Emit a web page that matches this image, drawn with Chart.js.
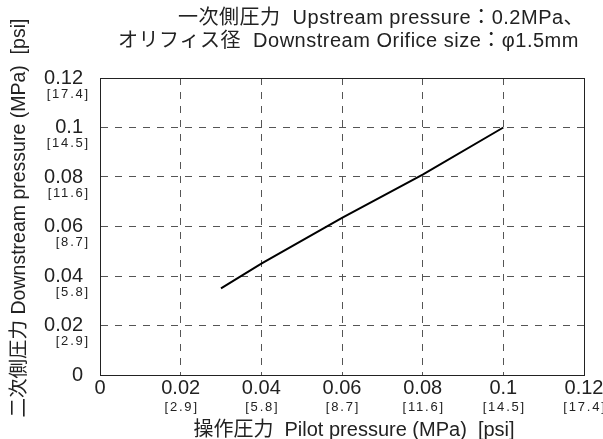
<!DOCTYPE html>
<html>
<head>
<meta charset="utf-8">
<script src="https://cdn.jsdelivr.net/npm/chart.js@4.4.0/dist/chart.umd.min.js"></script>
<style>
  html, body { margin: 0; padding: 0; background: #fff; }
  #wrap { width: 603px; height: 439px; }
</style>
</head>
<body>
<div id="wrap"><canvas id="chart"></canvas></div>
<script>
// data
const pilotMPa      = [0.03, 0.04, 0.06, 0.08, 0.1];
const downstreamMPa = [0.035, 0.045, 0.0635, 0.081, 0.1];

// tick labels (MPa + psi underneath)
const tickMPa    = [0, 0.02, 0.04, 0.06, 0.08, 0.1, 0.12];
const tickLabels = ['0', '0.02', '0.04', '0.06', '0.08', '0.1', '0.12'];
const psiLabels  = ['', '[2.9]', '[5.8]', '[8.7]', '[11.6]', '[14.5]', '[17.4]'];

const titleLines = [
  '一次側圧力  Upstream pressure：0.2MPa、',
  'オリフィス径  Downstream Orifice size：φ1.5mm'
];
const xTitle = '操作圧力  Pilot pressure (MPa)  [psi]';
const yTitle = '二次側圧力 Downstream pressure (MPa)  [psi]';

const FONT = '"Liberation Sans", "Noto Sans CJK JP", sans-serif';

// ==========================
// text + frame drawn on top of the chart
// ==========================
const labelsPlugin = {
  id: 'labels',
  afterDraw(chart) {
    const { ctx, chartArea: a, scales: { x, y } } = chart;
    ctx.save();

    // frame
    ctx.strokeStyle = '#222';
    ctx.lineWidth = 1;
    ctx.strokeRect(Math.round(a.left) + 0.5, Math.round(a.top) + 0.5,
                   Math.round(a.right - a.left), Math.round(a.bottom - a.top));

    ctx.fillStyle = '#222';
    ctx.textBaseline = 'middle';

    // y ticks
    tickMPa.forEach((v, i) => {
      const py = y.getPixelForValue(v);
      ctx.textAlign = 'right';
      ctx.letterSpacing = '0px';
      ctx.font = '20px ' + FONT;
      ctx.fillText(tickLabels[i], 83, py);
      if (psiLabels[i]) {
        ctx.font = '13px ' + FONT;
        ctx.letterSpacing = '1.8px';
        ctx.fillText(psiLabels[i], 90, py + 16);
      }
    });

    // x ticks
    tickMPa.forEach((v, i) => {
      const px = x.getPixelForValue(v);
      ctx.textAlign = 'center';
      ctx.letterSpacing = '0px';
      ctx.font = '20px ' + FONT;
      ctx.fillText(tickLabels[i], px, 388);
      if (psiLabels[i]) {
        ctx.font = '13px ' + FONT;
        ctx.letterSpacing = '1.8px';
        ctx.fillText(psiLabels[i], px + 1, 407);
      }
    });
    ctx.letterSpacing = '0px';

    // axis titles
    ctx.font = '20px ' + FONT;
    ctx.textAlign = 'center';
    ctx.fillText(xTitle, 354, 430);

    ctx.save();
    ctx.translate(20, 218);
    ctx.rotate(-Math.PI / 2);
    ctx.font = '19.5px ' + FONT;
    ctx.fillText(yTitle, 0, 0);
    ctx.restore();

    // header
    ctx.font = '20px ' + FONT;
    ctx.letterSpacing = '0.5px';
    ctx.textAlign = 'left';
    ctx.fillText(titleLines[0], 178, 18);
    ctx.fillText(titleLines[1], 118, 41);

    ctx.restore();
  }
};

const gridOpts = { color: '#555', lineWidth: 1, drawTicks: false };
const borderOpts = { display: true, color: '#222', width: 1, dash: [7, 7] };

new Chart(document.getElementById('chart'), {
  type: 'line',
  data: {
    datasets: [{
      data: pilotMPa.map((p, i) => ({ x: p, y: downstreamMPa[i] })),
      borderColor: '#000',
      borderWidth: 2,
      pointRadius: 0,
      tension: 0,
      fill: false
    }]
  },
  options: {
    responsive: true,
    maintainAspectRatio: false,
    animation: false,
    layout: { padding: { top: 78, right: 19, left: 0, bottom: 0 } },
    plugins: {
      legend: { display: false },
      tooltip: { enabled: false }
    },
    scales: {
      x: {
        type: 'linear',
        min: 0, max: 0.12,
        ticks: { display: false, stepSize: 0.02 },
        grid: gridOpts,
        border: borderOpts,
        afterFit: s => { s.height = 64; }
      },
      y: {
        type: 'linear',
        min: 0, max: 0.12,
        ticks: { display: false, stepSize: 0.02 },
        grid: gridOpts,
        border: borderOpts,
        afterFit: s => { s.width = 100; }
      }
    }
  },
  plugins: [labelsPlugin]
});
</script>
</body>
</html>
